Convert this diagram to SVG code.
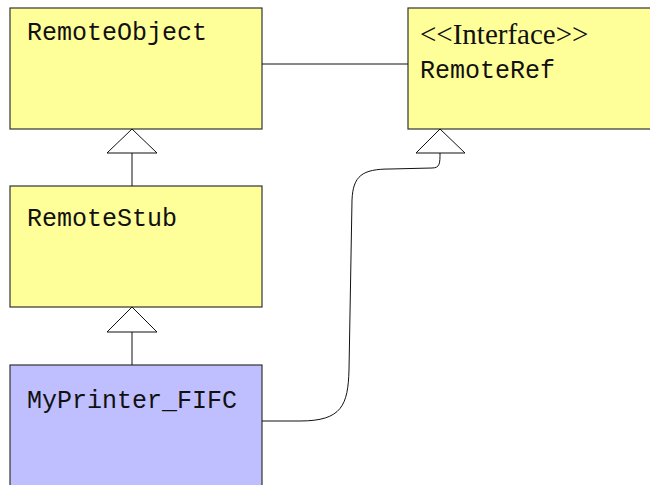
<svg xmlns="http://www.w3.org/2000/svg" width="650" height="485" viewBox="0 0 650 485">
<style>
.box{stroke:#333;stroke-width:1.2}
.y{fill:#ffff99}
.b{fill:#bfbfff}
.mono{font-family:"Liberation Mono","Courier New",monospace;font-size:25px;fill:#111}
.serif{font-family:"Liberation Serif","Times New Roman",serif;font-size:29px;fill:#111}
.conn{fill:none;stroke:#111;stroke-width:1}
.tri{fill:#fff;stroke:#111;stroke-width:1}
</style>
<g id="RemoteObject">
<rect class="box y" x="10" y="8" width="252" height="121"/>
<text class="mono" x="27" y="40">RemoteObject</text>
</g>
<g id="RemoteRef">
<rect class="box y" x="408" y="8" width="250" height="121"/>
<text class="serif" x="420" y="44">&lt;&lt;Interface&gt;&gt;</text>
<text class="mono" x="420" y="78">RemoteRef</text>
</g>
<g id="RemoteStub">
<rect class="box y" x="10" y="186" width="252" height="121"/>
<text class="mono" x="27" y="226">RemoteStub</text>
</g>
<g id="MyPrinter_FIFC">
<rect class="box b" x="10" y="365" width="252" height="130"/>
<text class="mono" x="27" y="408">MyPrinter_FIFC</text>
</g>
<g id="connectors">
<line class="conn" x1="262" y1="64" x2="408" y2="64"/>
<line class="conn" x1="132" y1="153" x2="132" y2="186"/>
<polygon class="tri" points="132,129 157,153 107,153"/>
<line class="conn" x1="132" y1="332" x2="132" y2="365"/>
<polygon class="tri" points="132,307 157,332 107,332"/>
<path class="conn" d="M262,421 L300,421 C342,421 348,405 349,370 L352,200 C353,176 362,169 390,169 L432,168 C440,168 440,163 440,153"/>
<polygon class="tri" points="440,129 465,153 416,153"/>
</g>
</svg>
